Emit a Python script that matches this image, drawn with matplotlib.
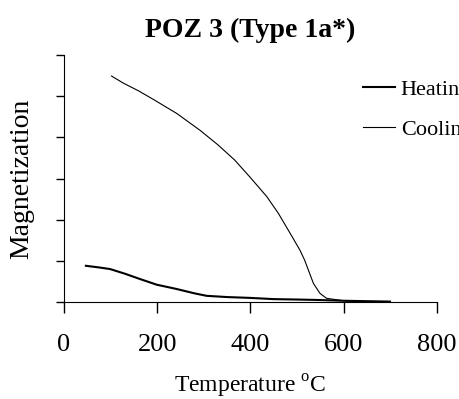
import matplotlib.pyplot as plt

plt.rcParams['font.family'] = ['Liberation Serif', 'DejaVu Serif']
plt.rcParams['mathtext.fontset'] = 'custom'
plt.rcParams['mathtext.rm'] = 'Liberation Serif'

# heating curve (temperature, magnetization in tick units)
heat_t = [47, 75, 99, 130, 160, 199, 240, 280, 306, 350, 399, 450, 500, 542, 600, 650, 699]
heat_m = [0.88, 0.84, 0.80, 0.69, 0.57, 0.42, 0.32, 0.21, 0.15, 0.12, 0.10, 0.07, 0.06, 0.05, 0.03, 0.02, 0.01]

# cooling curve
cool_t = [102, 127, 160, 192, 242, 292, 330, 366, 400, 435, 460, 485, 506, 516, 524, 535, 549, 563, 600, 635, 700]
cool_m = [5.49, 5.32, 5.13, 4.92, 4.58, 4.17, 3.82, 3.45, 3.02, 2.56, 2.15, 1.67, 1.26, 1.02, 0.78, 0.45, 0.21, 0.09, 0.03, 0.01, 0.0]

x_ticks = [0, 200, 400, 600, 800]
y_ticks = [0, 1, 2, 3, 4, 5, 6]

fig = plt.figure(figsize=(4.59, 3.99), dpi=100)
ax = fig.add_axes([0.1394, 0.2431, 0.9521 - 0.1394, 0.862 - 0.2431])

ax.plot(heat_t, heat_m, color='black', lw=1.5, label='Heating')
ax.plot(cool_t, cool_m, color='black', lw=0.8, label='Cooling')

ax.set_xlim(0, 800)
ax.set_ylim(0, 6)
ax.set_xticks(x_ticks)
ax.set_yticks(y_ticks)
ax.set_yticklabels([])
ax.tick_params(axis='x', direction='out', length=8, width=1, labelsize=19, pad=15)
ax.tick_params(axis='y', direction='out', length=6, width=1)
ax.spines['top'].set_visible(False)
ax.spines['right'].set_visible(False)

ax.set_title('POZ 3 (Type 1a*)', fontsize=20, fontweight='bold', pad=13)
ax.set_xlabel(r'Temperature $^{\mathrm{o}}$C', fontsize=17, labelpad=12)
ax.set_ylabel('Magnetization', fontsize=20, labelpad=12)

ax.legend(loc='upper left', bbox_to_anchor=(0.791, 0.802), bbox_transform=fig.transFigure,
          frameon=False, fontsize=16, handlelength=1.45, handletextpad=0.25,
          labelspacing=0.88, borderpad=0, borderaxespad=0)

fig.savefig('out.png', dpi=100)
